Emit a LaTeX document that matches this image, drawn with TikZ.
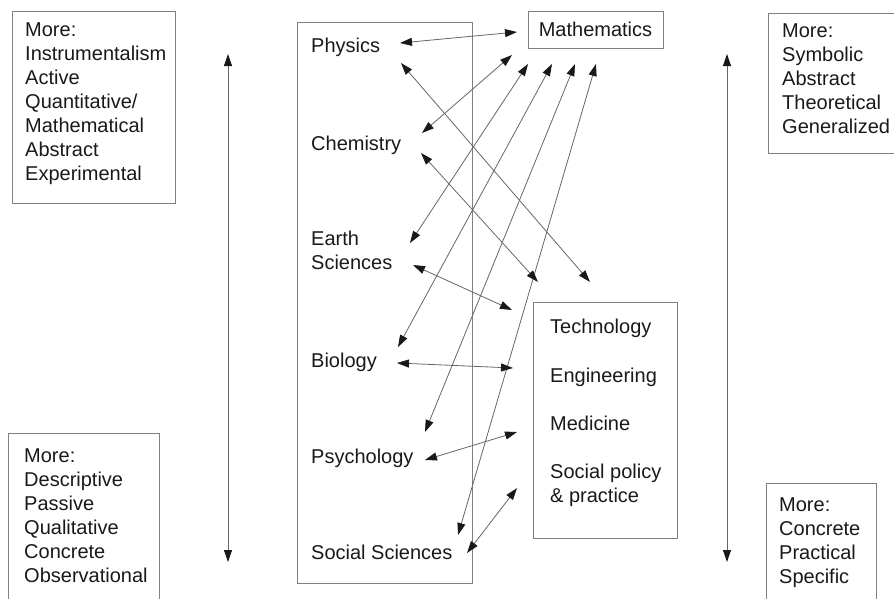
\documentclass[tikz,border=0pt]{standalone}
\usepackage{fontspec}
\setmainfont{Liberation Sans}
\usetikzlibrary{arrows.meta}

\tikzset{
  box/.style={draw=black!50, line width=0.9pt, inner sep=0pt, outer sep=0pt},
  word/.style={inner sep=0pt, text=black!90, font=\fontsize{20}{24}\selectfont, align=left},
  link/.style={draw=black!60, line width=0.8pt, {Triangle[length=12pt,width=8pt,color=black!90]}-{Triangle[length=12pt,width=8pt,color=black!90]}},
}

\begin{document}
\begin{tikzpicture}[x=1pt,y=-1pt]
  \useasboundingbox (0,0) rectangle (894,598);

  % frames
  \draw[box] (12,11) rectangle (175,203);
  \draw[box] (768,13) rectangle (900,153);
  \draw[box] (8,433) rectangle (159,605);
  \draw[box] (766,483) rectangle (876,605);
  \draw[box] (297,22) rectangle (472,583);

  % the two sides
  \node[word, anchor=north west] (moreleft) at (25,22.5)
    {More:\\Instrumentalism\\Active\\Quantitative/\\Mathematical\\Abstract\\Experimental};
  \node[word, anchor=north west] (moreright) at (782,23.5)
    {More:\\Symbolic\\Abstract\\Theoretical\\Generalized};
  \node[word, anchor=north west] (lessleft) at (24,448.5)
    {More:\\Descriptive\\Passive\\Qualitative\\Concrete\\Observational};
  \node[word, anchor=north west] (lessright) at (779,497.5)
    {More:\\Concrete\\Practical\\Specific};

  \coordinate (ltop) at (228,54);
  \coordinate (lbot) at (228,562);
  \coordinate (rtop) at (727,54);
  \coordinate (rbot) at (727,562);
  \draw[link] (ltop) -- (lbot);
  \draw[link] (rtop) -- (rbot);

  % sciences
  \node[word, anchor=base west] (phys) at (311,52) {Physics};
  \node[word, anchor=base west] (chem) at (311,150) {Chemistry};
  \node[word, anchor=north west] (earth) at (311,230.5) {Earth\\Sciences};
  \node[word, anchor=base west] (bio) at (311,367) {Biology};
  \node[word, anchor=base west] (psych) at (311,463) {Psychology};
  \node[word, anchor=base west] (socsci) at (311,559) {Social Sciences};

  \node[box, word, minimum width=135, minimum height=37] (math) at (595.5,29.5) {Mathematics};

  % applied fields
  \node[box, minimum width=144, minimum height=236] (techbox) at (605,420) {};
  \node[word, anchor=base west] (tech) at (550,333) {Technology};
  \node[word, anchor=base west] (eng) at (550,382) {Engineering};
  \node[word, anchor=base west] (med) at (550,430) {Medicine};
  \node[word, anchor=north west] (policy) at (550,463.5) {Social policy\\\& practice};

  % to mathematics
  \draw[link] ([shift={(89,-9)}]phys.base west) -- ([shift={(-11,2.5)}]math.west);
  \draw[link] ([shift={(111,-17)}]chem.base west) -- ([shift={(-16,7)}]math.south west);
  \draw[link] ([shift={(99,12.5)}]earth.north west) -- ([shift={(0,16)}]math.south west);
  \draw[link] ([shift={(87,-20)}]bio.base west) -- ([shift={(24,16)}]math.south west);
  \draw[link] ([shift={(114,-31)}]psych.base west) -- ([shift={(47,16)}]math.south west);
  \draw[link] ([shift={(147,-24)}]socsci.base west) -- ([shift={(68,16)}]math.south west);

  % to the applied fields
  \draw[link] ([shift={(90,11)}]phys.base west) -- ([shift={(57,-20)}]techbox.north west);
  \draw[link] ([shift={(110,3)}]chem.base west) -- ([shift={(5,-20)}]techbox.north west);
  \draw[link] ([shift={(102,34.5)}]earth.north west) -- ([shift={(-21,8)}]techbox.north west);
  \draw[link] ([shift={(86,-4)}]bio.base west) -- ([shift={(-20,66)}]techbox.north west);
  \draw[link] ([shift={(114,-3)}]psych.base west) -- ([shift={(-16,130)}]techbox.north west);
  \draw[link] ([shift={(156,-6)}]socsci.base west) -- ([shift={(-16,186)}]techbox.north west);
\end{tikzpicture}
\end{document}
